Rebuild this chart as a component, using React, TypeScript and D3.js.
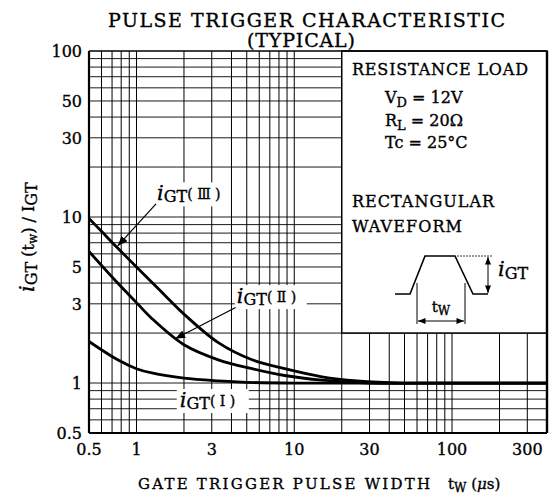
import React from "react";
import * as d3 from "d3";

const W = 553;
const H = 502;
const margin = { top: 51, right: 6, bottom: 69, left: 89 };

// axes
const xDomain = [0.5, 400];
const yDomain = [0.5, 100];
const xTickLabels = [0.5, 1, 3, 10, 30, 100, 300];
const yTickLabels = [0.5, 1, 3, 5, 10, 30, 50, 100];

// curves: pulse width (us) vs iGT(tw)/IGT
const gt3X = [0.5, 0.6, 0.76, 1, 1.25, 1.6, 2, 3.3, 5.4, 8.7, 15, 25, 50, 100, 400];
const gt3Y = [9.8, 8.2, 6.5, 5.0, 4.05, 3.2, 2.6, 1.75, 1.38, 1.22, 1.09, 1.03, 1.0, 1.0, 1.0];
const gt2X = [0.5, 0.76, 1, 1.25, 2, 3.3, 5.4, 8.7, 15, 30, 100, 400];
const gt2Y = [6.2, 4.0, 3.05, 2.45, 1.7, 1.38, 1.22, 1.11, 1.04, 1.0, 1.0, 1.0];
const gt1X = [0.5, 0.76, 1, 1.25, 2, 3.3, 5, 10, 400];
const gt1Y = [1.78, 1.38, 1.22, 1.15, 1.07, 1.03, 1.01, 1.0, 1.0];

// legend box corners in data units
const boxX = [20, 400];
const boxY = [2, 100];

const serif = "'DejaVu Serif', 'Liberation Serif', serif";

export default function App() {
  const x = d3.scaleLog().domain(xDomain).range([margin.left, W - margin.right]);
  const y = d3.scaleLog().domain(yDomain).range([H - margin.bottom, margin.top]);
  const x0 = x.range()[0], x1 = x.range()[1];
  const y0 = y.range()[0], y1 = y.range()[1];

  const xGrid = x.ticks().filter(v => v > xDomain[0] && v < xDomain[1]);
  const yGrid = y.ticks().filter(v => v > yDomain[0] && v < yDomain[1]);

  const line = d3
    .line<[number, number]>()
    .x(d => x(d[0]))
    .y(d => y(d[1]))
    .curve(d3.curveCatmullRom.alpha(0.5));
  const pts = (xs: number[], ys: number[]) => xs.map((v, i) => [v, ys[i]] as [number, number]);

  const bx = x(boxX[0]);
  const by = y(boxY[1]);
  const bw = x(boxX[1]) - bx;
  const bh = y(boxY[0]) - by;

  // a thin outline makes the text as dark as the scanned original
  const ink = { fill: "#000", stroke: "#000", strokeWidth: 0.35 };

  const label = (lx: number, ly: number, roman: string) => (
    <text x={x(lx)} y={y(ly)} fontSize={21} fontStyle="italic" {...ink}>
      i<tspan fontStyle="normal" dy={2} fontSize={16}>GT</tspan>
      <tspan fontStyle="normal" dy={-3} fontSize={14}>( {roman} )</tspan>
    </text>
  );

  return (
    <svg width={W} height={H} style={{ position: "absolute", left: 0, top: 0, background: "#fff" }} fontFamily={serif}>
      <defs>
        <marker id="ah" viewBox="0 0 10 8" refX="10" refY="4" markerWidth="10" markerHeight="8" markerUnits="userSpaceOnUse" orient="auto-start-reverse">
          <path d="M0,0 L10,4 L0,8 z" fill="#000" />
        </marker>
        <marker id="ahs" viewBox="0 0 10 8" refX="10" refY="4" markerWidth="8" markerHeight="6" markerUnits="userSpaceOnUse" orient="auto-start-reverse">
          <path d="M0,0 L10,4 L0,8 z" fill="#000" />
        </marker>
        <clipPath id="plot">
          <rect x={x0} y={y1} width={x1 - x0} height={y0 - y1} />
        </clipPath>
      </defs>

      {/* title */}
      <text x={108} y={27} fontSize={19} textLength={397} {...ink}>PULSE TRIGGER CHARACTERISTIC</text>
      <text x={247} y={47} fontSize={19} textLength={108} {...ink}>(TYPICAL)</text>

      {/* grid */}
      <g stroke="#000" strokeWidth={1}>
        {xGrid.map(v => (
          <line key={"gx" + v} x1={x(v)} x2={x(v)} y1={y1} y2={y0} />
        ))}
        {yGrid.map(v => (
          <line key={"gy" + v} x1={x0} x2={x1} y1={y(v)} y2={y(v)} strokeWidth={0.9} />
        ))}
      </g>

      {/* legend box */}
      <rect x={bx} y={by} width={bw} height={bh} fill="#fff" stroke="#000" strokeWidth={1.5} />
      <g fontSize={16} {...ink}>
        <text x={352} y={75} textLength={176}>RESISTANCE LOAD</text>
        <text x={385} y={103}>V<tspan dy={4} fontSize={13}>D</tspan><tspan dy={-4}> = 12V</tspan></text>
        <text x={385} y={126}>R<tspan dy={4} fontSize={13}>L</tspan><tspan dy={-4}> = 20Ω</tspan></text>
        <text x={385} y={148}>Tc = 25°C</text>
        <text x={352} y={207} textLength={142}>RECTANGULAR</text>
        <text x={352} y={232} textLength={110}>WAVEFORM</text>
      </g>

      {/* waveform inset */}
      <g transform="translate(395,256)" fill="none" stroke="#000">
        <polyline points="0,38 15,38 30,0 60,0 78,38 93,38" strokeWidth={1.6} />
        <line x1={22} x2={22} y1={27} y2={68} strokeWidth={1} />
        <line x1={70} x2={70} y1={27} y2={68} strokeWidth={1} />
        <line x1={23} x2={69} y1={65} y2={65} strokeWidth={1} markerStart="url(#ahs)" markerEnd="url(#ahs)" />
        <line x1={62} x2={97} y1={0} y2={0} strokeWidth={0.8} strokeDasharray="2,1" />
        <line x1={93} x2={93} y1={1} y2={37} strokeWidth={1} markerStart="url(#ahs)" markerEnd="url(#ahs)" />
        <text x={46} y={56} textAnchor="middle" fontSize={15} {...ink}>t<tspan dy={3} fontSize={12}>W</tspan></text>
        <text x={103} y={20} fontSize={21} fontStyle="italic" {...ink}>i<tspan fontStyle="normal" dy={3} fontSize={16}>GT</tspan></text>
      </g>

      {/* curves */}
      <g clipPath="url(#plot)" fill="none" stroke="#000" strokeWidth={2.8}>
        <path d={line(pts(gt3X, gt3Y)) || ""} />
        <path d={line(pts(gt2X, gt2Y)) || ""} />
        <path d={line(pts(gt1X, gt1Y)) || ""} />
      </g>

      {/* curve labels */}
      <g>
        <rect x={x(1.3)} y={y(12.6) - 18} width={70} height={24} fill="#fff" />
        {label(1.35, 12.6, "Ⅲ")}
        <line x1={x(1.33)} y1={y(12)} x2={x(0.76)} y2={y(6.7)} stroke="#000" strokeWidth={1.2} markerEnd="url(#ah)" />

        <rect x={x(4.2)} y={y(3.03) - 18} width={72} height={24} fill="#fff" />
        {label(4.32, 3.03, "Ⅱ")}
        <line x1={x(4.25)} y1={y(2.85)} x2={x(1.76)} y2={y(1.85)} stroke="#000" strokeWidth={1.2} markerEnd="url(#ah)" />

        <rect x={x(1.8)} y={y(0.717) - 18} width={72} height={24} fill="#fff" />
        {label(1.88, 0.717, "Ⅰ")}
      </g>

      {/* frame */}
      <g fill="none" stroke="#000">
        <line x1={x0} x2={x0} y1={y1} y2={y0} strokeWidth={2.2} />
        <line x1={x0} x2={x1} y1={y0} y2={y0} strokeWidth={2.2} />
        <line x1={x0} x2={x1} y1={y1} y2={y1} strokeWidth={1.5} />
        <line x1={x1} x2={x1} y1={y1} y2={y0} strokeWidth={2.4} />
      </g>

      {/* tick labels */}
      <g fontSize={16} {...ink}>
        {xTickLabels.map(v => (
          <text key={"xt" + v} x={x(v)} y={y0 + 22} textAnchor="middle">{v}</text>
        ))}
        {yTickLabels.map(v => (
          <text key={"yt" + v} x={x0 - 7} y={y(v) + 6} textAnchor="end">{v}</text>
        ))}
      </g>

      {/* axis titles */}
      <text x={138} y={489} fontSize={15} textLength={292} {...ink}>GATE TRIGGER PULSE WIDTH</text>
      <text x={448} y={489} fontSize={15} {...ink}>t<tspan dy={3} fontSize={12}>W</tspan><tspan dy={-3}> (</tspan><tspan fontStyle="italic">μ</tspan>s)</text>

      <text transform="translate(34,292) rotate(-90)" fontSize={21} {...ink}>
        <tspan fontStyle="italic">i</tspan>
        <tspan dy={3} fontSize={16}>GT</tspan>
        <tspan dy={-3} fontSize={16}> (t</tspan>
        <tspan dy={3} fontSize={12}>w</tspan>
        <tspan dy={-3} fontSize={16}>) / I</tspan>
        <tspan dy={3} fontSize={16}>GT</tspan>
      </text>
    </svg>
  );
}
